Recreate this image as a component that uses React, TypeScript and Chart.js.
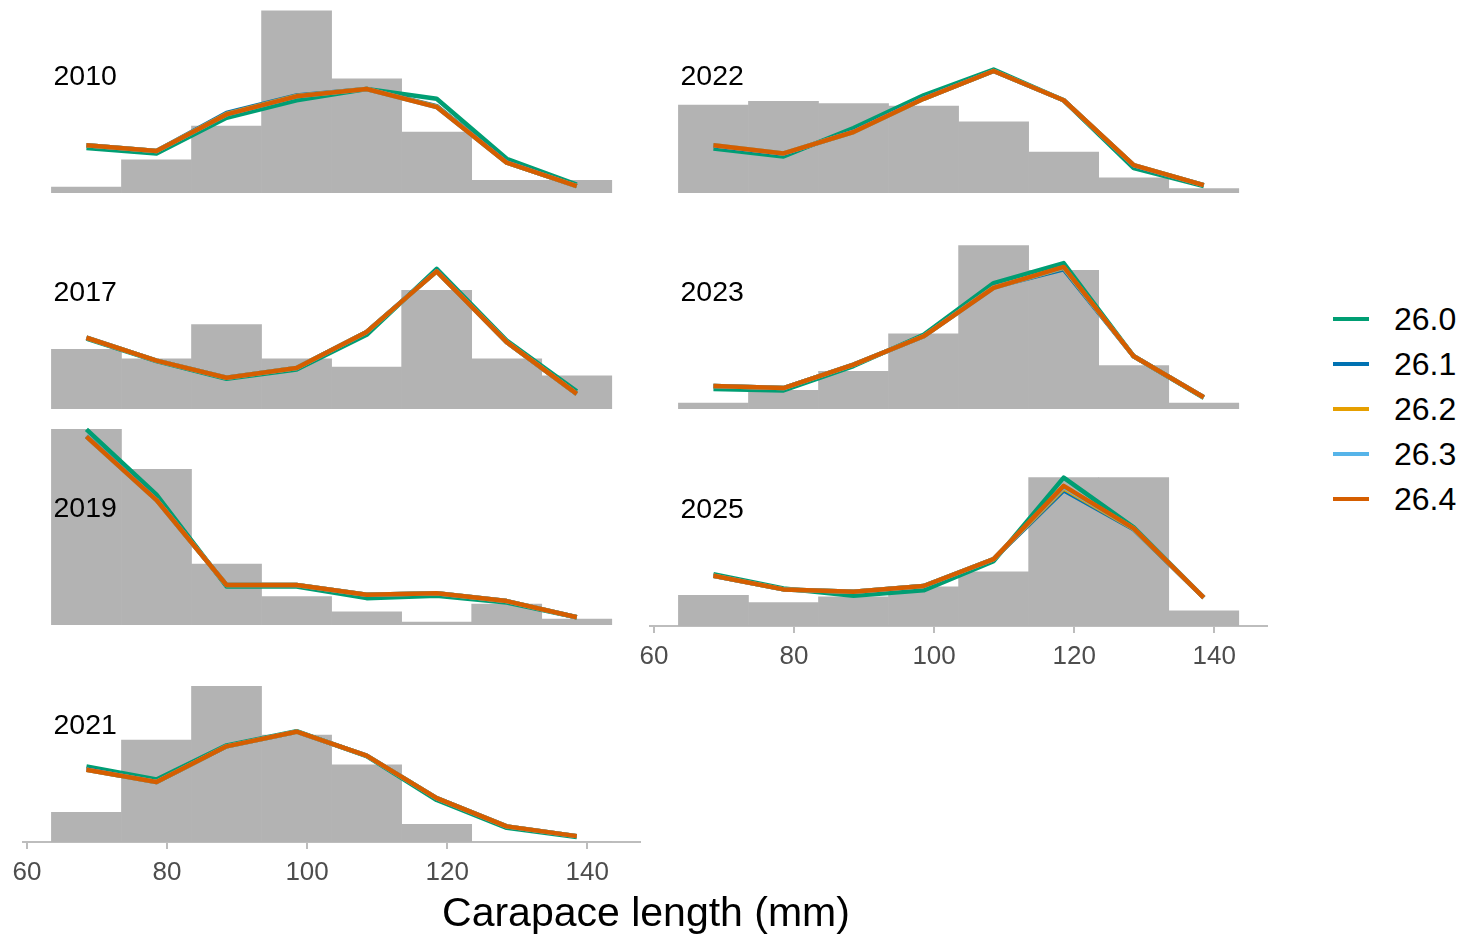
import React, { useEffect, useRef } from "react";
import { Chart, registerables } from "chart.js";

Chart.register(...registerables);

// ---------- data ----------
const BIN_MIDS = [68.5, 78.5, 88.5, 98.5, 108.5, 118.5, 128.5, 138.5];
const X_TICKS = [60, 80, 100, 120, 140];
const SERIES = ["26.0", "26.1", "26.2", "26.3", "26.4"];
const SERIES_COLORS = ["#009E73", "#0072B2", "#E69F00", "#56B4E9", "#D55E00"];

const HIST_2010 = [0.012, 0.068, 0.137, 0.373, 0.234, 0.125, 0.026, 0.026];
const FIT_2010 = [
  [0.092, 0.081, 0.154, 0.190, 0.213, 0.193, 0.070, 0.017],
  [0.098, 0.086, 0.164, 0.200, 0.213, 0.178, 0.063, 0.014],
  [0.098, 0.086, 0.162, 0.199, 0.213, 0.177, 0.062, 0.014],
  [0.098, 0.086, 0.161, 0.198, 0.213, 0.176, 0.062, 0.014],
  [0.098, 0.086, 0.161, 0.198, 0.213, 0.176, 0.062, 0.014],
];

const HIST_2017 = [0.122, 0.103, 0.173, 0.103, 0.086, 0.243, 0.103, 0.068];
const FIT_2017 = [
  [0.144, 0.098, 0.062, 0.081, 0.152, 0.287, 0.140, 0.036],
  [0.146, 0.099, 0.064, 0.084, 0.158, 0.283, 0.137, 0.031],
  [0.146, 0.099, 0.064, 0.084, 0.158, 0.282, 0.137, 0.031],
  [0.146, 0.099, 0.064, 0.084, 0.158, 0.282, 0.137, 0.031],
  [0.146, 0.099, 0.064, 0.084, 0.158, 0.282, 0.137, 0.031],
];

const HIST_2019 = [0.401, 0.319, 0.125, 0.058, 0.027, 0.006, 0.043, 0.012];
const FIT_2019 = [
  [0.401, 0.267, 0.079, 0.079, 0.055, 0.060, 0.046, 0.016],
  [0.387, 0.257, 0.082, 0.082, 0.062, 0.065, 0.049, 0.016],
  [0.386, 0.256, 0.082, 0.082, 0.062, 0.065, 0.049, 0.016],
  [0.386, 0.256, 0.082, 0.082, 0.062, 0.065, 0.049, 0.016],
  [0.386, 0.256, 0.082, 0.082, 0.062, 0.065, 0.049, 0.016],
];

const HIST_2021 = [0.061, 0.209, 0.319, 0.219, 0.158, 0.036, 0, 0];
const FIT_2021 = [
  [0.155, 0.128, 0.198, 0.227, 0.176, 0.086, 0.029, 0.010],
  [0.149, 0.123, 0.196, 0.226, 0.177, 0.090, 0.032, 0.012],
  [0.148, 0.123, 0.196, 0.226, 0.177, 0.090, 0.032, 0.012],
  [0.148, 0.123, 0.196, 0.226, 0.177, 0.090, 0.032, 0.012],
  [0.148, 0.123, 0.196, 0.226, 0.177, 0.090, 0.032, 0.012],
];

const HIST_2022 = [0.180, 0.188, 0.183, 0.178, 0.146, 0.084, 0.031, 0.009];
const FIT_2022 = [
  [0.091, 0.075, 0.133, 0.200, 0.253, 0.190, 0.051, 0.014],
  [0.097, 0.080, 0.126, 0.194, 0.250, 0.190, 0.056, 0.016],
  [0.098, 0.081, 0.125, 0.193, 0.250, 0.190, 0.057, 0.016],
  [0.098, 0.081, 0.125, 0.193, 0.250, 0.190, 0.057, 0.016],
  [0.098, 0.081, 0.125, 0.193, 0.250, 0.190, 0.057, 0.016],
];

const HIST_2023 = [0.012, 0.038, 0.077, 0.154, 0.335, 0.284, 0.089, 0.012];
const FIT_2023 = [
  [0.041, 0.038, 0.088, 0.152, 0.258, 0.299, 0.108, 0.023],
  [0.047, 0.043, 0.091, 0.149, 0.250, 0.286, 0.108, 0.024],
  [0.047, 0.043, 0.091, 0.149, 0.249, 0.289, 0.108, 0.024],
  [0.047, 0.043, 0.091, 0.149, 0.248, 0.290, 0.108, 0.024],
  [0.047, 0.043, 0.091, 0.149, 0.248, 0.291, 0.108, 0.024],
];

const HIST_2025 = [0.063, 0.048, 0.060, 0.080, 0.111, 0.304, 0.304, 0.031];
const FIT_2025 = [
  [0.106, 0.077, 0.062, 0.073, 0.133, 0.304, 0.202, 0.058],
  [0.103, 0.075, 0.070, 0.082, 0.137, 0.278, 0.198, 0.058],
  [0.103, 0.075, 0.070, 0.082, 0.137, 0.282, 0.199, 0.058],
  [0.103, 0.075, 0.070, 0.082, 0.137, 0.285, 0.200, 0.058],
  [0.103, 0.075, 0.070, 0.082, 0.137, 0.287, 0.200, 0.058],
];

// ---------- layout / style ----------
const FONT = "'Liberation Sans', Arial, Helvetica, sans-serif";
const X_MIN = 59.5;
const X_MAX = 147.5;
const Y_MAX = 0.42;
const LABEL_X = 63.8;
const LABEL_Y = 0.237;
const PLOT_W = 616.4;
const PLOT_H = 205;
const PAD_L = 23.4;
const CANVAS_W = 662;
const AXIS_H = 60;
const BAR_COLOR = "#B3B3B3";
const AXIS_COLOR = "#BDBDBD";
const TICK_TEXT = "#4D4D4D";

type PanelDef = {
  year: string;
  hist: number[];
  fit: number[][];
  plotLeft: number;
  baseline: number;
  axis: boolean;
};

const LEFT_COL = 23.4;
const RIGHT_COL = 650.5;

const PANELS: PanelDef[] = [
  { year: "2010", hist: HIST_2010, fit: FIT_2010, plotLeft: LEFT_COL, baseline: 193.3, axis: false },
  { year: "2017", hist: HIST_2017, fit: FIT_2017, plotLeft: LEFT_COL, baseline: 409.4, axis: false },
  { year: "2019", hist: HIST_2019, fit: FIT_2019, plotLeft: LEFT_COL, baseline: 625.3, axis: false },
  { year: "2021", hist: HIST_2021, fit: FIT_2021, plotLeft: LEFT_COL, baseline: 841.7, axis: true },
  { year: "2022", hist: HIST_2022, fit: FIT_2022, plotLeft: RIGHT_COL, baseline: 193.3, axis: false },
  { year: "2023", hist: HIST_2023, fit: FIT_2023, plotLeft: RIGHT_COL, baseline: 409.4, axis: false },
  { year: "2025", hist: HIST_2025, fit: FIT_2025, plotLeft: RIGHT_COL, baseline: 625.7, axis: true },
];

function Panel({ p }: { p: PanelDef }) {
  const ref = useRef<HTMLCanvasElement>(null);
  const height = PLOT_H + (p.axis ? AXIS_H : 0);
  const left = p.plotLeft - PAD_L;
  const top = p.baseline - PLOT_H;

  useEffect(() => {
    const canvas = ref.current;
    if (!canvas) return;
    const labelPlugin = {
      id: "panelLabel",
      afterDatasetsDraw(chart: any) {
        const { ctx, scales } = chart;
        ctx.save();
        ctx.font = `28.5px ${FONT}`;
        ctx.fillStyle = "#000000";
        ctx.textAlign = "left";
        ctx.textBaseline = "middle";
        ctx.fillText(p.year, scales.x.getPixelForValue(LABEL_X), scales.y.getPixelForValue(LABEL_Y));
        ctx.restore();
      },
    };
    const datasets: any[] = [
      {
        type: "bar",
        label: "observed",
        data: BIN_MIDS.map((x, i) => ({ x, y: p.hist[i] })),
        backgroundColor: BAR_COLOR,
        borderWidth: 0,
        barPercentage: 1,
        categoryPercentage: 1,
        order: 10,
      },
      ...SERIES.map((s, k) => ({
        type: "line",
        label: s,
        data: BIN_MIDS.map((x, i) => ({ x, y: p.fit[k][i] })),
        borderColor: SERIES_COLORS[k],
        backgroundColor: SERIES_COLORS[k],
        borderWidth: 4.5,
        borderJoinStyle: "round",
        borderCapStyle: "butt",
        pointRadius: 0,
        tension: 0,
        fill: false,
        order: SERIES.length - k,
      })),
    ];
    const xScale: any = {
      type: "linear",
      min: X_MIN,
      max: X_MAX,
      offset: false,
      display: p.axis,
      afterBuildTicks: (axis: any) => {
        axis.ticks = X_TICKS.map((v) => ({ value: v }));
      },
      border: { display: true, color: AXIS_COLOR, width: 2 },
      grid: {
        display: true,
        drawOnChartArea: false,
        drawTicks: true,
        tickLength: 7,
        color: AXIS_COLOR,
        lineWidth: 2,
        offset: false,
      },
      ticks: {
        color: TICK_TEXT,
        font: { family: FONT, size: 26 },
        padding: 8,
        maxRotation: 0,
        autoSkip: false,
      },
    };
    if (p.axis) {
      xScale.afterFit = (axis: any) => {
        axis.height = AXIS_H;
      };
    }
    const chart = new Chart(canvas, {
      type: "line",
      data: { datasets },
      options: {
        animation: false,
        responsive: false,
        maintainAspectRatio: false,
        events: [],
        layout: { padding: { left: PAD_L, right: CANVAS_W - PAD_L - PLOT_W, top: 0, bottom: 0 } },
        scales: {
          x: xScale,
          y: { type: "linear", min: 0, max: Y_MAX, display: false },
        },
        plugins: {
          legend: { display: false },
          tooltip: { enabled: false },
        },
      } as any,
      plugins: [labelPlugin],
    } as any);
    return () => chart.destroy();
  }, [p]);

  return (
    <canvas
      ref={ref}
      width={CANVAS_W}
      height={height}
      style={{ position: "absolute", left, top, width: CANVAS_W, height }}
    />
  );
}

const LEGEND_TOP = 296.8;
const LEGEND_ROW_H = 45;

export default function App() {
  return (
    <div
      style={{
        position: "absolute",
        left: 0,
        top: 0,
        width: 1462,
        height: 935,
        overflow: "hidden",
        background: "#ffffff",
        fontFamily: FONT,
      }}
    >
      {PANELS.map((p) => (
        <Panel key={p.year} p={p} />
      ))}
      <div
        style={{
          position: "absolute",
          left: 0,
          width: 1292,
          top: 891,
          height: 42,
          lineHeight: "42px",
          fontSize: 41,
          textAlign: "center",
          color: "#000",
        }}
      >
        Carapace length (mm)
      </div>
      {SERIES.map((s, k) => (
        <div
          key={s}
          style={{
            position: "absolute",
            left: 1333,
            top: LEGEND_TOP + k * LEGEND_ROW_H,
            height: LEGEND_ROW_H,
            display: "flex",
            alignItems: "center",
          }}
        >
          <div style={{ width: 36, height: 4, background: SERIES_COLORS[k] }} />
          <div style={{ marginLeft: 25, fontSize: 32, lineHeight: "32px", color: "#000" }}>{s}</div>
        </div>
      ))}
    </div>
  );
}
